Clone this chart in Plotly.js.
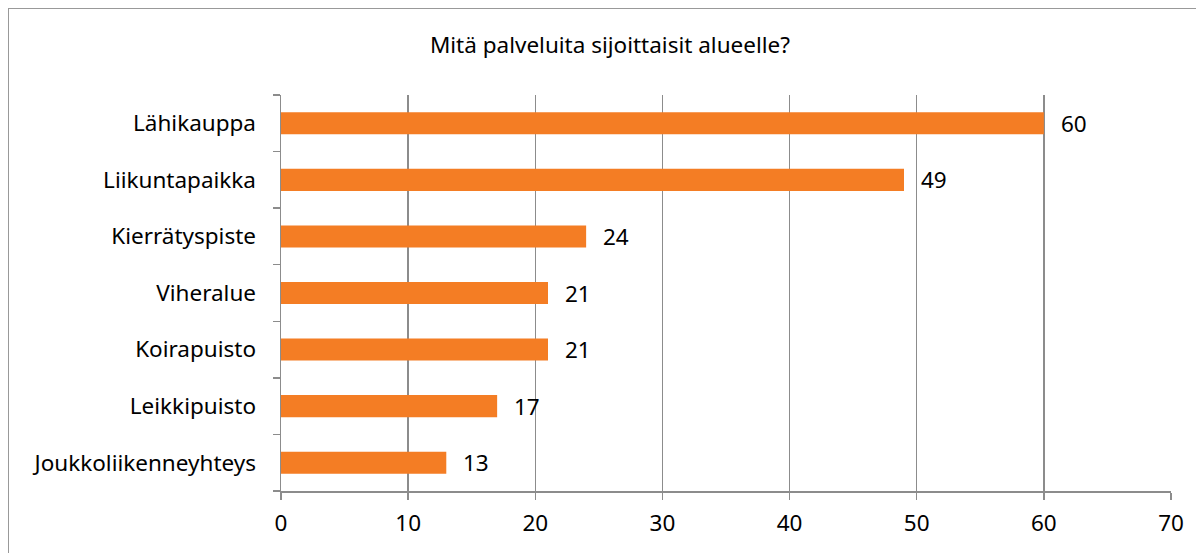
<!DOCTYPE html>
<html>
<head>
<meta charset="utf-8">
<script src="https://cdn.plot.ly/plotly-3.0.1.min.js"></script>
<style>
html,body{margin:0;padding:0;background:#fff;overflow:hidden;}
#chart{width:1196px;height:553px;position:relative;}
#frame{position:absolute;left:8px;top:8px;width:1200px;height:560px;border:1.5px solid #999;pointer-events:none;box-sizing:border-box;}
</style>
</head>
<body>
<div id="chart"></div>
<div id="frame"></div>
<script>
const categories = ["Lähikauppa","Liikuntapaikka","Kierrätyspiste","Viheralue","Koirapuisto","Leikkipuisto","Joukkoliikenneyhteys"];
const values = [60, 49, 24, 21, 21, 17, 13];
const titleText = "Mitä palveluita sijoittaisit alueelle?";
const xTicks = [0,10,20,30,40,50,60,70];

const font = "'Noto Sans', 'Open Sans', sans-serif";
const fs = 22.5;

const trace = {
  type: 'bar',
  orientation: 'h',
  y: categories.slice().reverse(),
  x: values.slice().reverse(),
  marker: {color: '#F47D24'},
  hoverinfo: 'none'
};

const annotations = categories.map((c, i) => ({
  x: values[i], y: c, xref: 'x', yref: 'y',
  text: String(values[i]), showarrow: false,
  xanchor: 'left', yanchor: 'middle', xshift: 15,
  font: {family: font, size: fs, color: '#000'}
}));

const layout = {
  width: 1196, height: 553,
  margin: {l: 281, r: 25, t: 95, b: 62, pad: 0},
  paper_bgcolor: '#fff', plot_bgcolor: '#fff',
  bargap: 0.61,
  showlegend: false,
  annotations: annotations,
  title: {text: titleText, x: 0.51, xref: 'container', y: 1 - 45/553, yref: 'container', yanchor: 'middle',
          font: {family: font, size: fs, color: '#000'}},
  xaxis: {
    range: [0, 70], tickvals: xTicks, ticktext: xTicks.map(String),
    showgrid: true, gridcolor: '#8c8c8c', gridwidth: 1.5,
    zeroline: false, showline: true, linecolor: '#8c8c8c', linewidth: 1.5,
    ticks: 'outside', ticklen: 7, tickcolor: '#8c8c8c', tickwidth: 1.5,
    ticklabelstandoff: 4,
    tickfont: {family: font, size: fs, color: '#000'}, fixedrange: true
  },
  yaxis: {
    type: 'category', showgrid: false, zeroline: false,
    showline: true, linecolor: '#8c8c8c', linewidth: 1.5,
    ticks: 'outside', ticklen: 7, tickcolor: '#8c8c8c', tickwidth: 1.5,
    tickson: 'boundaries',
    tickfont: {family: font, size: fs, color: '#000'},
    ticklabelstandoff: 19, fixedrange: true
  },
  font: {family: font}
};

Plotly.newPlot('chart', [trace], layout, {displayModeBar: false, staticPlot: true});
</script>
</body>
</html>
